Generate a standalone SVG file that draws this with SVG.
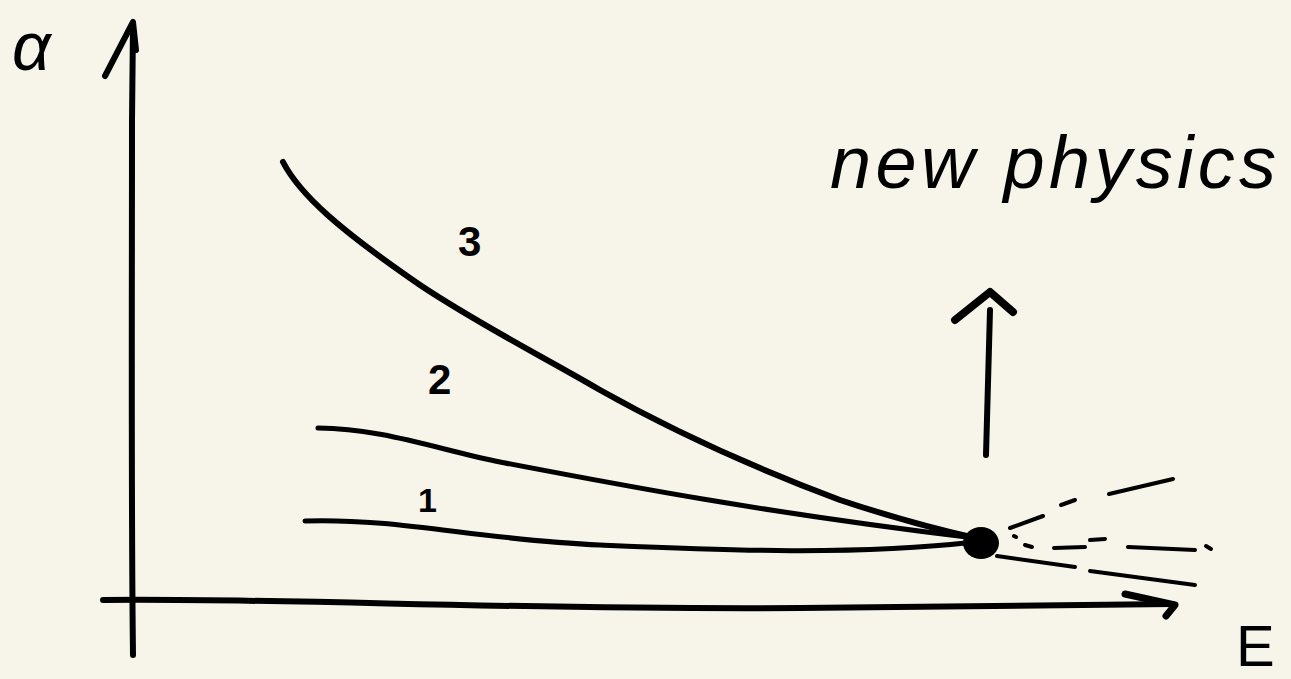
<svg xmlns="http://www.w3.org/2000/svg" width="1291" height="679" viewBox="0 0 1291 679">
<style>
.s{fill:none;stroke:#000;stroke-linecap:round;stroke-linejoin:round}
.t{font-family:"Liberation Sans",sans-serif;fill:#000}
</style>
<rect width="1291" height="679" fill="#f7f5ea"/>
<g id="axes">
<path class="s" stroke-width="6" d="M133,655 C131,500 132,300 132,120 L133,24"/>
<path class="s" stroke-width="6" d="M105,76 L133,22 L136,50"/>
<path class="s" stroke-width="6" d="M103,600 C300,598 500,610 800,608 C1000,607 1100,605 1172,604"/>
<path class="s" stroke-width="7" d="M1125,594 L1175,605 L1166,616"/>
<text class="t" x="12" y="70" font-size="68" font-style="italic">α</text>
<text class="t" x="1236" y="666" font-size="58">E</text>
</g>
<g id="curves">
<path class="s" stroke-width="6" d="M283,162 C300,195 340,230 420,285 C480,325 540,355 600,390 C680,435 760,470 840,500 C900,520 940,530 975,538"/>
<path class="s" stroke-width="5" d="M318,428 C380,428 440,450 500,462 C620,485 760,512 975,538"/>
<path class="s" stroke-width="5" d="M305,521 C400,518 480,540 600,545 C720,550 850,556 975,542"/>
<ellipse id="dot" cx="981" cy="543" rx="18" ry="16" fill="#000"/>
<text class="t" x="458" y="256" font-size="42" font-weight="bold">3</text>
<text class="t" x="428" y="394" font-size="42" font-weight="bold">2</text>
<text class="t" x="418" y="512" font-size="34" font-weight="bold">1</text>
</g>
<g id="dashes" class="s" stroke-width="4">
<path d="M1010,528 L1043,516"/>
<path d="M1061,505 L1075,500"/>
<path d="M1109,494 L1173,479"/>
<path d="M1014,536 L1016,537"/>
<path d="M1025,545 L1032,547"/>
<path d="M1054,548 L1085,547"/>
<path d="M1090,540 L1105,539"/>
<path d="M1128,547 L1195,550"/>
<path d="M1206,546 L1211,549"/>
<path d="M997,556 L1075,567"/>
<path d="M1090,571 L1195,585"/>
</g>
<g id="newphysics">
<path class="s" stroke-width="6" d="M986,455 L990,310"/>
<path class="s" stroke-width="8" d="M955,320 L990,292 L1013,312"/>
<text class="t" x="830" y="188" font-size="74" font-style="italic" textLength="446" lengthAdjust="spacing">new physics</text>
</g>
</svg>
